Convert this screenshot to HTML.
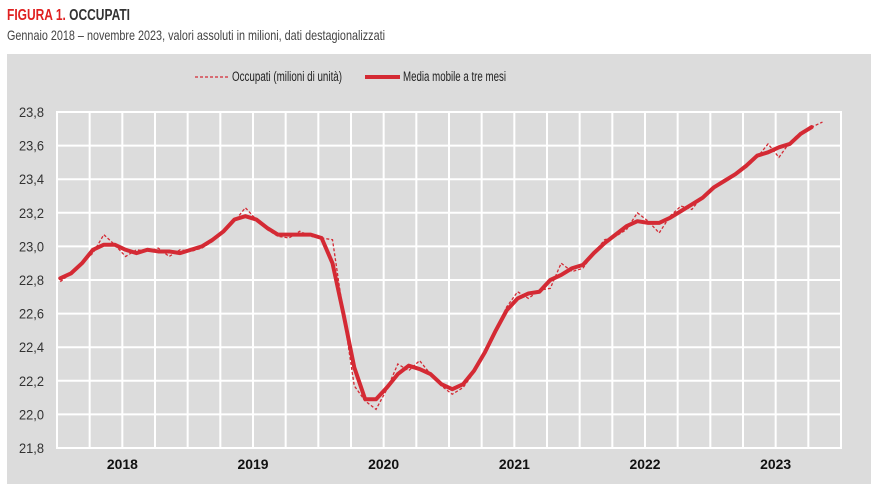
<!DOCTYPE html>
<html><head><meta charset="utf-8"><style>
body{margin:0;background:#fff;width:879px;height:493px;overflow:hidden;font-family:"Liberation Sans",sans-serif}
</style></head><body>
<svg id="chart" width="879" height="493" xmlns="http://www.w3.org/2000/svg" font-family="Liberation Sans, sans-serif">
<text x="7" y="20" font-size="16" font-weight="bold" textLength="123" lengthAdjust="spacingAndGlyphs"><tspan fill="#e02020">FIGURA 1.</tspan><tspan fill="#333"> OCCUPATI</tspan></text>
<text x="7" y="40" font-size="14" fill="#444" textLength="378" lengthAdjust="spacingAndGlyphs">Gennaio 2018 – novembre 2023, valori assoluti in milioni, dati destagionalizzati</text>
<rect x="7" y="54" width="864" height="430" fill="#dcdcdc"/>
<g>
<line x1="195" y1="77" x2="228" y2="77" stroke="#d42a34" stroke-width="1.3" stroke-dasharray="3,2"/>
<text x="232" y="81" font-size="13.5" fill="#222" textLength="110" lengthAdjust="spacingAndGlyphs">Occupati (milioni di unità)</text>
<line x1="365" y1="77" x2="400" y2="77" stroke="#d42a34" stroke-width="4"/>
<text x="403" y="81" font-size="13.5" fill="#222" textLength="103" lengthAdjust="spacingAndGlyphs">Media mobile a tre mesi</text>
</g>
<g id="grid"></g><g id="axes"></g><g id="series"></g>
</svg>
<script>
const yTicks=[21.8,22.0,22.2,22.4,22.6,22.8,23.0,23.2,23.4,23.6,23.8];
const yTickLabels=["21,8","22,0","22,2","22,4","22,6","22,8","23,0","23,2","23,4","23,6","23,8"];
const years=["2018","2019","2020","2021","2022","2023"];
const rawValues=[22.79,22.84,22.90,22.96,23.07,23.01,22.94,22.98,22.97,22.99,22.94,22.98,
22.97,22.99,23.03,23.10,23.15,23.23,23.16,23.10,23.06,23.05,23.09,23.06,
23.05,23.04,22.60,22.17,22.08,22.03,22.15,22.30,22.26,22.32,22.24,22.17,
22.12,22.16,22.25,22.37,22.50,22.64,22.73,22.69,22.74,22.75,22.90,22.85,
22.87,22.96,23.04,23.06,23.10,23.20,23.15,23.08,23.18,23.24,23.22,23.30,
23.35,23.39,23.43,23.47,23.53,23.61,23.53,23.62,23.68,23.71,23.74];
const maValues=[22.81,22.84,22.90,22.98,23.01,23.01,22.98,22.96,22.98,22.97,22.97,22.96,
22.98,23.00,23.04,23.09,23.16,23.18,23.16,23.11,23.07,23.07,23.07,23.07,
23.05,22.90,22.60,22.28,22.09,22.09,22.16,22.24,22.29,22.27,22.24,22.18,
22.15,22.18,22.26,22.37,22.50,22.62,22.69,22.72,22.73,22.80,22.83,22.87,
22.89,22.96,23.02,23.07,23.12,23.15,23.14,23.14,23.17,23.21,23.25,23.29,
23.35,23.39,23.43,23.48,23.54,23.56,23.59,23.61,23.67,23.71];
const X0=57,X1=841,Y0=448,Y1=112,NM=72;
const mw=(X1-X0)/NM;
function xS(i){return X0+(i+0.3)*mw;}
function yS(v){return Y0-(v-21.8)/(23.8-21.8)*(Y0-Y1);}
const NS="http://www.w3.org/2000/svg";
function mk(tag,parent,attrs){const e=document.createElementNS(NS,tag);for(const k in attrs)e.setAttribute(k,attrs[k]);parent.appendChild(e);return e;}
const grid=document.getElementById('grid'),axes=document.getElementById('axes'),series=document.getElementById('series');
mk('rect',grid,{x:X0,y:Y1,width:X1-X0,height:Y0-Y1,fill:'#dcdcdc',stroke:'#fff','stroke-width':2});
yTicks.forEach((t,k)=>{
 const l=mk('line',grid,{x1:X0,x2:X1,y1:yS(t),y2:yS(t),stroke:'#fff','stroke-width':2});
 
 
 const tx=mk('text',axes,{x:44,y:yS(t)+5,'font-size':14,fill:'#333','text-anchor':'end',textLength:25,lengthAdjust:'spacingAndGlyphs'});
 tx.textContent=yTickLabels[k];
 
 
});
for(let q=0;q<=NM/3;q++){
 const x=X0+q*3*mw;
 const l=mk('line',grid,{x1:x,x2:x,y1:Y1,y2:Y0,stroke:'#fff','stroke-width':2});
 
 
}
years.forEach((y,k)=>{
 const tx=mk('text',axes,{x:X0+(k*12+6)*mw,y:469,'font-size':14,'font-weight':'bold',fill:'#111','text-anchor':'middle',textLength:31,lengthAdjust:'spacingAndGlyphs'});
 tx.textContent=y;
 
 
});
const raw=mk('polyline',series,{points:rawValues.map((v,i)=>xS(i)+','+yS(v)).join(' '),fill:'none',stroke:'#d42a34','stroke-width':1.3,'stroke-dasharray':'3,2'});


const ma=mk('polyline',series,{points:maValues.map((v,i)=>xS(i)+','+yS(v)).join(' '),fill:'none',stroke:'#d42a34','stroke-width':4,'stroke-linejoin':'round','stroke-linecap':'round'});


</script>
</body></html>
